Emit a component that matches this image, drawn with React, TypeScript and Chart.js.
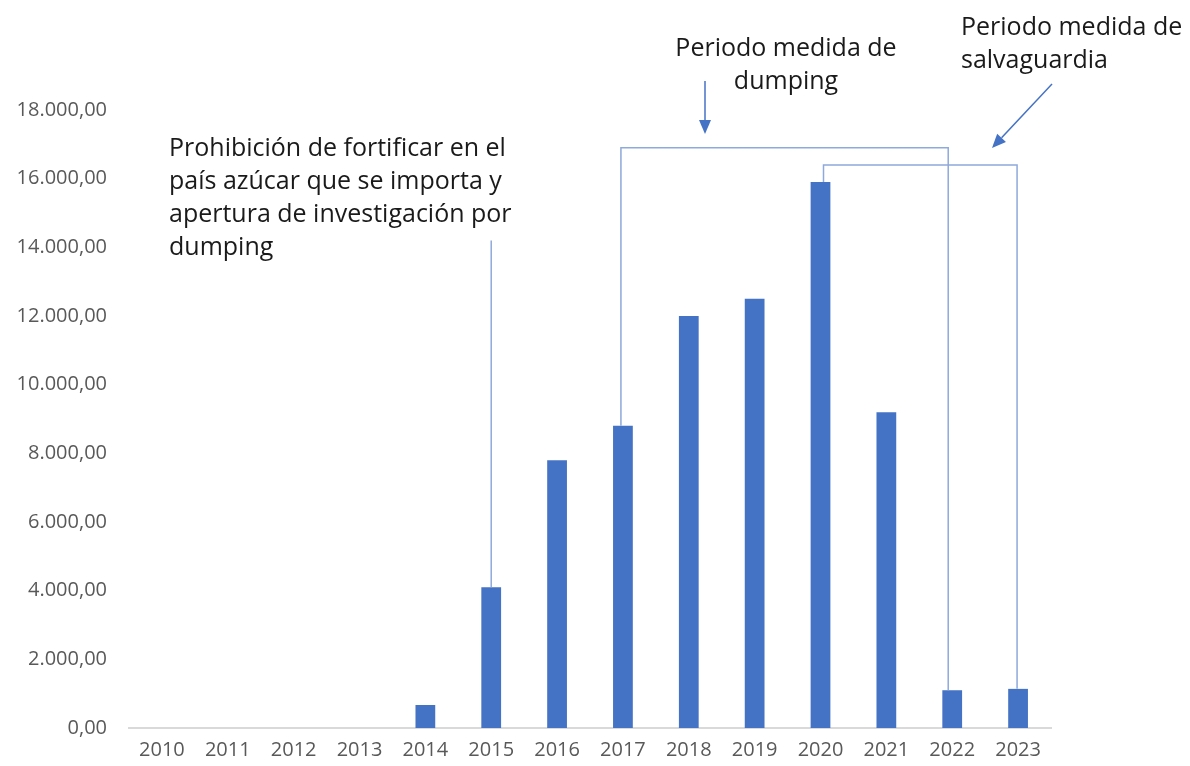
import React, { useEffect, useRef } from "react";
import { Chart, registerables } from "chart.js";

Chart.register(...registerables);

const years = ["2010", "2011", "2012", "2013", "2014", "2015", "2016", "2017", "2018", "2019", "2020", "2021", "2022", "2023"];
const imports = [0, 0, 0, 0, 670, 4100, 7800, 8800, 12000, 12500, 15900, 9200, 1100, 1140];
const yTicks = [0, 2000, 4000, 6000, 8000, 10000, 12000, 14000, 16000, 18000];

const noteProhibicion = ["Prohibición de fortificar en el", "país azúcar que se importa y", "apertura de investigación por", "dumping"];
const noteDumping = ["Periodo medida de", "dumping"];
const noteSalvaguardia = ["Periodo medida de", "salvaguardia"];

const dumpingStart = 7; // 2017
const dumpingEnd = 12; // 2022
const dumpingLevel = 16900;
const salvStart = 10; // 2020
const salvEnd = 13; // 2023
const salvLevel = 16400;
const prohibIndex = 5; // 2015
const prohibTopLevel = 14200;

const fmt = (v: number) =>
  v.toLocaleString("de-DE", { minimumFractionDigits: 2, maximumFractionDigits: 2 });

const FONT = "'Open Sans', 'Noto Sans', sans-serif";

const annotations = {
  id: "annotations",
  afterDatasetsDraw(chart: any) {
    const ctx = chart.ctx;
    const x = chart.scales.x;
    const y = chart.scales.y;
    const lineColor = "#8ea9db";
    const arrowColor = "#4472c4";
    ctx.save();
    ctx.lineWidth = 1.5;
    ctx.strokeStyle = lineColor;

    // prohibition line
    const px = x.getPixelForValue(prohibIndex);
    ctx.beginPath();
    ctx.moveTo(px, y.getPixelForValue(imports[prohibIndex]));
    ctx.lineTo(px, y.getPixelForValue(prohibTopLevel));
    ctx.stroke();

    // dumping bracket
    const d1 = x.getPixelForValue(dumpingStart) - 2;
    const d2 = x.getPixelForValue(dumpingEnd) - 4;
    const dy = y.getPixelForValue(dumpingLevel);
    ctx.beginPath();
    ctx.moveTo(d1, y.getPixelForValue(imports[dumpingStart]));
    ctx.lineTo(d1, dy);
    ctx.lineTo(d2, dy);
    ctx.lineTo(d2, y.getPixelForValue(imports[dumpingEnd]));
    ctx.stroke();

    // safeguard bracket
    const s1 = x.getPixelForValue(salvStart) + 3;
    const s2 = x.getPixelForValue(salvEnd) - 1;
    const sy = y.getPixelForValue(salvLevel);
    ctx.beginPath();
    ctx.moveTo(s1, y.getPixelForValue(imports[salvStart]));
    ctx.lineTo(s1, sy);
    ctx.lineTo(s2, sy);
    ctx.lineTo(s2, y.getPixelForValue(imports[salvEnd]));
    ctx.stroke();

    // arrows
    const arrow = (x0: number, y0: number, x1: number, y1: number) => {
      const ang = Math.atan2(y1 - y0, x1 - x0);
      const len = 14;
      const hw = 6;
      const bx = x1 - len * Math.cos(ang);
      const by = y1 - len * Math.sin(ang);
      ctx.strokeStyle = arrowColor;
      ctx.fillStyle = arrowColor;
      ctx.lineWidth = 1.5;
      ctx.beginPath();
      ctx.moveTo(x0, y0);
      ctx.lineTo(bx, by);
      ctx.stroke();
      ctx.beginPath();
      ctx.moveTo(x1, y1);
      ctx.lineTo(bx + hw * Math.sin(ang), by - hw * Math.cos(ang));
      ctx.lineTo(bx - hw * Math.sin(ang), by + hw * Math.cos(ang));
      ctx.closePath();
      ctx.fill();
    };
    arrow(705, 81, 705, 134);
    arrow(1052, 84, 992, 148);

    // texts
    ctx.fillStyle = "#1a1a1a";
    ctx.font = "25px " + FONT;
    ctx.textBaseline = "middle";
    ctx.textAlign = "left";
    noteProhibicion.forEach((t, i) => ctx.fillText(t, 169, 149 + i * 33));
    ctx.textAlign = "center";
    noteDumping.forEach((t, i) => ctx.fillText(t, 786, 49 + i * 33));
    ctx.textAlign = "left";
    noteSalvaguardia.forEach((t, i) => ctx.fillText(t, 961, 28 + i * 33));
    ctx.restore();
  },
};

export default function App() {
  const ref = useRef<HTMLCanvasElement>(null);
  useEffect(() => {
    if (!ref.current) return;
    const chart = new Chart(ref.current, {
      type: "bar",
      data: {
        labels: years,
        datasets: [
          {
            data: imports,
            backgroundColor: "#4472c4",
            borderWidth: 0,
            barPercentage: 0.3,
            categoryPercentage: 1,
          },
        ],
      },
      options: {
        animation: false,
        responsive: false,
        maintainAspectRatio: false,
        layout: { padding: { top: 110, right: 139, bottom: 0, left: 0 } },
        plugins: { legend: { display: false }, tooltip: { enabled: false } },
        scales: {
          x: {
            grid: { display: false, drawTicks: false },
            border: { display: true, color: "#d9d9d9", width: 2 },
            ticks: { color: "#595959", font: { family: FONT, size: 20 }, padding: 10, maxRotation: 0 },
            afterFit: (s: any) => {
              s.height = 38;
            },
          },
          y: {
            min: 0,
            max: 18000,
            afterBuildTicks: (s: any) => {
              s.ticks = yTicks.map((v) => ({ value: v }));
            },
            grid: { display: false, drawTicks: false },
            border: { display: false },
            ticks: {
              color: "#595959",
              font: { family: FONT, size: 20 },
              padding: 22,
              callback: (v: any) => fmt(Number(v)),
            },
            afterFit: (s: any) => {
              s.width = 129;
            },
          },
        },
      },
      plugins: [annotations],
    });
    return () => chart.destroy();
  }, []);
  return (
    <div style={{ position: "absolute", left: 0, top: 0, width: 1190, height: 766, background: "#fff" }}>
      <canvas ref={ref} width={1190} height={766} style={{ width: 1190, height: 766 }} />
    </div>
  );
}
